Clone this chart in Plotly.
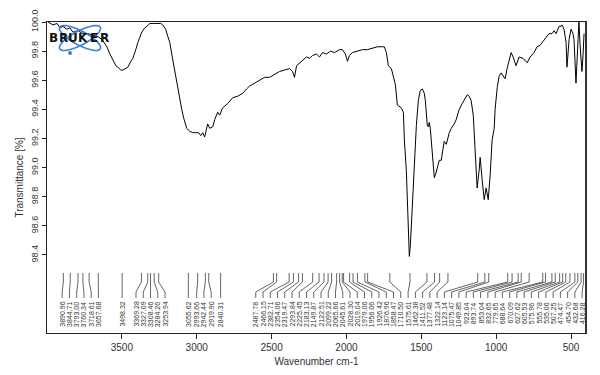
import math
import plotly.graph_objects as go

# ---------------- data ----------------
wavenumber = [3993, 3980, 3960, 3933, 3913, 3893, 3867, 3847, 3827, 3793, 3760, 3727, 3693, 3660, 3633,
              3620, 3600, 3580, 3560, 3540, 3527, 3507, 3493, 3473, 3460, 3440, 3427, 3407, 3393, 3367,
              3347, 3333, 3313, 3293, 3273, 3260, 3240, 3227, 3207, 3193, 3180, 3160, 3147, 3133, 3113,
              3100, 3087, 3067, 3047, 3027, 3007, 2987, 2973, 2960, 2947, 2933, 2927, 2913, 2893, 2880,
              2860, 2847, 2827, 2793, 2760, 2727, 2693, 2667, 2647, 2613, 2580, 2547, 2513, 2480, 2447,
              2413, 2380, 2360, 2347, 2333, 2313, 2287, 2267, 2247, 2227, 2200, 2180, 2160, 2133, 2107,
              2080, 2047, 2027, 2007, 1993, 1980, 1960, 1927, 1893, 1860, 1827, 1793, 1760, 1747, 1733,
              1720, 1700, 1687, 1673, 1660, 1647, 1633, 1620, 1613, 1600, 1587, 1580, 1573, 1560, 1547,
              1533, 1520, 1507, 1493, 1480, 1473, 1460, 1453, 1447, 1440, 1433, 1420, 1413, 1400, 1380,
              1367, 1347, 1333, 1313, 1300, 1280, 1267, 1247, 1227, 1207, 1193, 1180, 1167, 1153, 1147,
              1140, 1127, 1113, 1107, 1093, 1080, 1067, 1053, 1040, 1027, 1013, 1007, 993, 980, 967,
              953, 940, 927, 913, 900, 887, 867, 847, 820, 793, 773, 747, 727, 707, 693,
              673, 660, 647, 627, 613, 600, 580, 567, 560, 547, 533, 527, 513, 500, 487,
              480, 467, 453, 447, 440, 433, 427, 420, 413]
transmittance = [100.00, 99.99, 99.98, 99.99, 99.96, 99.97, 99.95, 99.96, 99.93, 99.94, 99.92, 99.92, 99.91, 99.90, 99.88,
                 99.86, 99.83, 99.78, 99.74, 99.70, 99.69, 99.67, 99.67, 99.68, 99.69, 99.73, 99.75, 99.81, 99.86, 99.93,
                 99.96, 99.97, 99.99, 99.99, 99.99, 99.99, 99.99, 99.98, 99.95, 99.90, 99.86, 99.74, 99.66, 99.58, 99.46,
                 99.40, 99.34, 99.27, 99.25, 99.24, 99.24, 99.24, 99.22, 99.24, 99.21, 99.26, 99.30, 99.27, 99.28, 99.33,
                 99.38, 99.36, 99.41, 99.44, 99.48, 99.49, 99.51, 99.54, 99.56, 99.58, 99.60, 99.62, 99.62, 99.64, 99.66,
                 99.67, 99.68, 99.66, 99.62, 99.70, 99.72, 99.74, 99.76, 99.75, 99.77, 99.78, 99.76, 99.79, 99.78, 99.80,
                 99.79, 99.81, 99.81, 99.78, 99.73, 99.77, 99.79, 99.80, 99.81, 99.81, 99.82, 99.83, 99.83, 99.83, 99.79,
                 99.70, 99.68, 99.63, 99.57, 99.43, 99.42, 99.41, 99.38, 99.19, 98.98, 98.57, 98.39, 98.47, 98.76, 99.05,
                 99.29, 99.46, 99.53, 99.54, 99.51, 99.46, 99.29, 99.28, 99.31, 99.27, 99.19, 99.00, 98.93, 98.97, 99.05,
                 99.05, 99.18, 99.16, 99.24, 99.27, 99.30, 99.33, 99.40, 99.44, 99.48, 99.50, 99.49, 99.46, 99.36, 99.26,
                 99.09, 98.86, 98.99, 99.07, 98.91, 98.78, 98.86, 98.78, 98.95, 99.19, 99.27, 99.40, 99.55, 99.63, 99.65,
                 99.63, 99.61, 99.68, 99.74, 99.79, 99.76, 99.70, 99.76, 99.75, 99.72, 99.76, 99.79, 99.83, 99.84, 99.86,
                 99.89, 99.91, 99.92, 99.92, 99.94, 99.92, 99.97, 99.97, 99.98, 99.95, 99.86, 99.69, 99.88, 99.95, 99.92,
                 99.88, 99.58, 99.88, 100.00, 99.85, 99.75, 99.66, 99.77, 99.92]

peak_wavenumbers = [3890.96, 3844.71, 3793.00, 3760.34, 3718.61, 3657.68, 3498.32,
                    3369.28, 3327.09, 3308.46, 3284.26, 3253.94,
                    3055.62, 2993.66, 2942.44, 2919.90, 2840.31,
                    2487.78, 2466.15, 2382.71, 2354.06, 2319.47, 2293.84, 2225.45, 2183.13,
                    2149.87, 2122.51, 2099.22, 2065.66, 2045.61, 2028.30, 2019.04, 1979.06,
                    1956.06, 1926.42, 1876.96, 1858.47, 1710.50, 1575.61, 1462.38, 1411.52,
                    1377.48, 1322.14, 1123.14, 1075.47, 1049.85, 923.04, 893.74, 853.04,
                    832.65, 779.65, 688.64, 670.09, 627.62, 605.53, 575.96, 555.78, 535.06,
                    507.25, 474.47, 454.70, 432.68, 416.28]

x_ticks = [3500, 3000, 2500, 2000, 1500, 1000, 500]
y_ticks = [98.4, 98.6, 98.8, 99.0, 99.2, 99.4, 99.6, 99.8, 100.0]

# ---------------- layout constants ----------------
# the page body has an 8px default margin; the figure is sized to fit inside 600x375
BODY = 8
W, H = 600 - 2 * BODY, 375 - 2 * BODY
PLOT_L, PLOT_T, PLOT_R, PLOT_B = 47, 22, 586, 333   # screen pixels of the plot frame
ML, MT = PLOT_L - BODY, PLOT_T - BODY
MR, MB = (BODY + W) - PLOT_R, (BODY + H) - PLOT_B
PW, PH = PLOT_R - PLOT_L, PLOT_B - PLOT_T
X_MAX, X_MIN = 4000, 400
Y_MAX, Y_MIN = 100.0, 97.864


def y_at_px(py):
    return Y_MAX - (py - PLOT_T) / PH * (Y_MAX - Y_MIN)


def px_to_paper(px, py):
    return (px - PLOT_L) / PW, (PLOT_B - py) / PH


GAP = 7.25 / PW * (X_MAX - X_MIN)
LO = 60.0
HI = X_MAX - 426.0


def layout_labels(peaks):
    us = [X_MAX - p for p in peaks]
    clusters = [[u] for u in us]

    def start(cl):
        n = len(cl)
        s = sum(cl) / n - (n - 1) * GAP / 2
        return max(LO, min(s, HI - (n - 1) * GAP))

    changed = True
    while changed:
        changed = False
        out = []
        for cl in clusters:
            if out and start(out[-1]) + len(out[-1]) * GAP > start(cl) + 1e-9:
                out[-1] = out[-1] + cl
                changed = True
            else:
                out.append(cl)
        clusters = out
    pos = []
    for cl in clusters:
        s = start(cl)
        pos += [s + i * GAP for i in range(len(cl))]
    return [X_MAX - u for u in pos]


label_x = layout_labels(peak_wavenumbers)

y1, y2, y3, y4, ytext = y_at_px(273), y_at_px(282), y_at_px(292), y_at_px(298), y_at_px(300)
cx, cy = [], []
for p, lx in zip(peak_wavenumbers, label_x):
    cx += [p, p, lx, lx, None]
    cy += [y1, y2, y3, y4, None]

fig = go.Figure()
fig.add_trace(go.Scatter(x=wavenumber, y=transmittance, mode="lines",
                         line=dict(color="black", width=1), hoverinfo="skip"))
fig.add_trace(go.Scatter(x=cx, y=cy, mode="lines",
                         line=dict(color="#222", width=0.7), hoverinfo="skip"))

annotations = []
for p, lx in zip(peak_wavenumbers, label_x):
    annotations.append(dict(x=lx, y=ytext, xref="x", yref="y", text=f"{p:.2f}",
                            textangle=-90, showarrow=False, xanchor="center", yanchor="top",
                            font=dict(family="Liberation Sans, Arial", size=7, color="#333")))

# Bruker logo
shapes = []
logo_cx, logo_cy = 80, 38
for ang in (28, -28):
    th = math.radians(ang)
    pts = []
    for k in range(0, 61):
        t = 2 * math.pi * k / 60
        ex, ey = 23 * math.cos(t), 7 * math.sin(t)
        px = logo_cx + ex * math.cos(th) - ey * math.sin(th)
        py = logo_cy - (ex * math.sin(th) + ey * math.cos(th))
        pts.append(px_to_paper(px, py))
    path = "M " + " L ".join(f"{a:.4f},{b:.4f}" for a, b in pts) + " Z"
    shapes.append(dict(type="path", path=path, xref="paper", yref="paper",
                       line=dict(color="#3b82d8", width=1.6)))
dx0, dy0 = px_to_paper(68, 51)
dx1, dy1 = px_to_paper(72, 55)
shapes.append(dict(type="circle", xref="paper", yref="paper", x0=dx0, y0=dy1, x1=dx1, y1=dy0,
                   fillcolor="#3b82d8", line=dict(color="#3b82d8", width=0)))
# thicker right frame edge
shapes.append(dict(type="line", xref="paper", yref="paper", x0=1, x1=1, y0=0, y1=1,
                   line=dict(color="#333", width=2)))

for letter, lpx in zip("BRUKER", [53, 63, 73, 83, 94, 104]):
    xp, yp = px_to_paper(lpx, 38)
    annotations.append(dict(x=xp, y=yp, xref="paper", yref="paper", text=f"<b>{letter}</b>",
                            showarrow=False, xanchor="center", yanchor="middle",
                            font=dict(family="DejaVu Sans, Liberation Sans", size=12, color="#111")))

fig.update_layout(
    width=W, height=H,
    margin=dict(l=ML, r=MR, t=MT, b=MB, autoexpand=False),
    paper_bgcolor="white", plot_bgcolor="white",
    showlegend=False,
    annotations=annotations,
    shapes=shapes,
    font=dict(family="Liberation Sans, Arial", color="#333"),
)
fig.update_xaxes(range=[X_MAX, X_MIN], tickvals=x_ticks, ticktext=[str(v) for v in x_ticks],
                 ticks="outside", ticklen=5, tickcolor="#222", showline=True, linecolor="#222",
                 linewidth=1, mirror=True, showgrid=False, zeroline=False, automargin=False,
                 tickfont=dict(size=10, color="#333"),
                 title=dict(text="Wavenumber cm-1", font=dict(size=10, color="#333"), standoff=5))
fig.update_yaxes(range=[Y_MIN, Y_MAX], tickvals=y_ticks, ticktext=[f"{v:.1f}" for v in y_ticks],
                 tickangle=-90, ticks="outside", ticklen=4, tickcolor="#222", showline=True,
                 linecolor="#222", linewidth=1, mirror=True, showgrid=False, zeroline=False,
                 automargin=False,
                 tickfont=dict(size=9, color="#333"),
                 title=dict(text="Transmittance [%]", font=dict(size=10, color="#333"), standoff=4))

fig.write_html("out.html")
